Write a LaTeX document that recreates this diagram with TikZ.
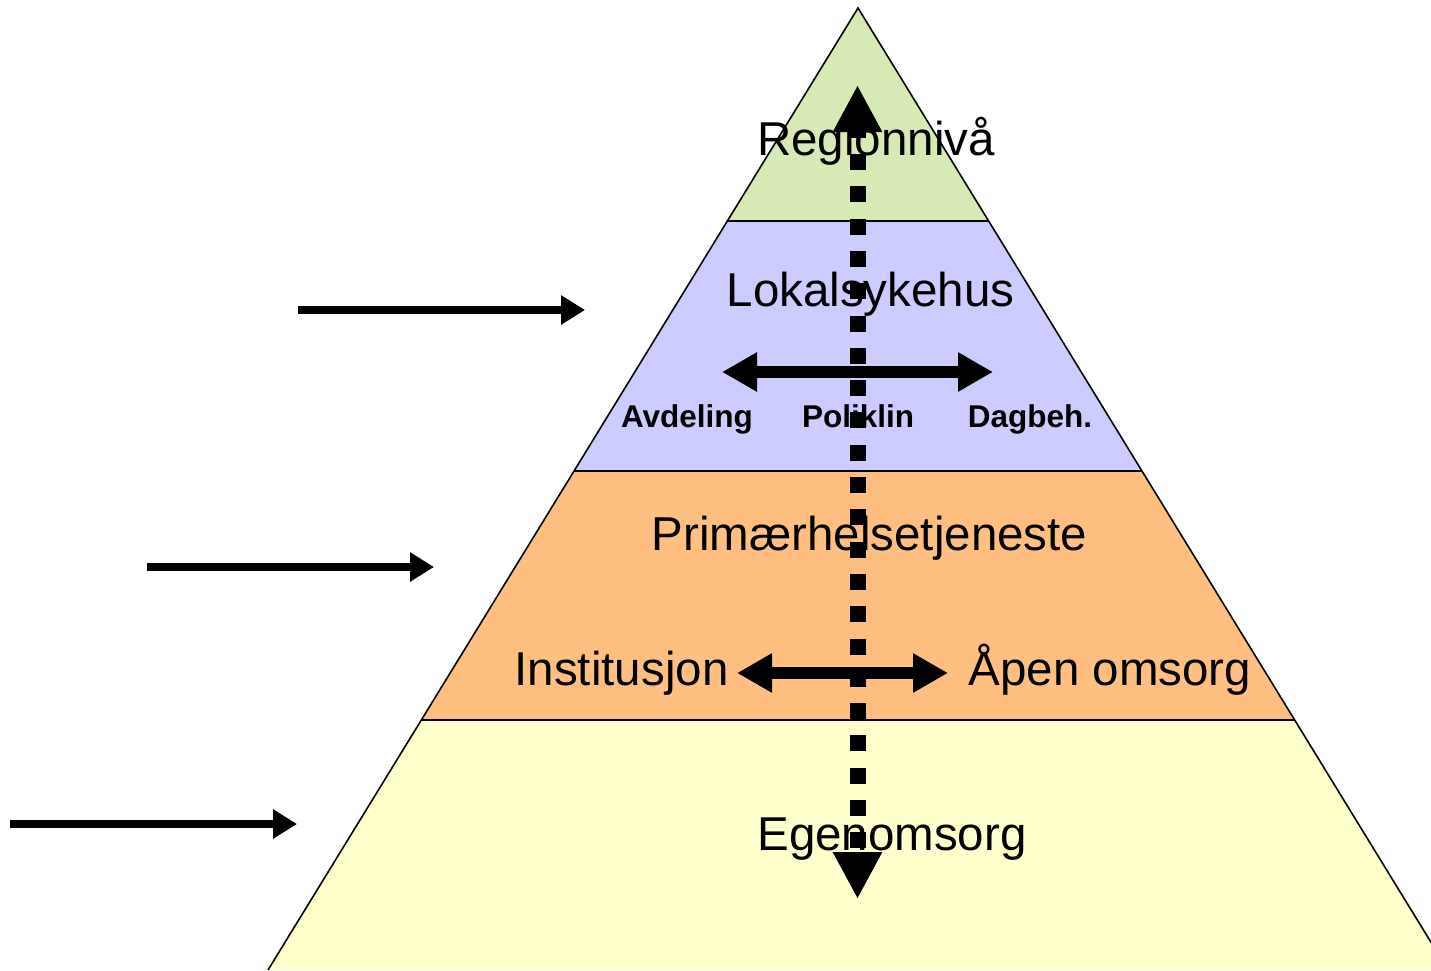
\documentclass[tikz,border=0pt]{standalone}
\usepackage{fontspec}
\setmainfont{Liberation Sans}
\usetikzlibrary{arrows.meta}
\definecolor{cgreen}{RGB}{215,233,180}
\definecolor{cblue}{RGB}{204,204,255}
\definecolor{corange}{RGB}{254,191,128}
\definecolor{cyellow}{RGB}{255,255,204}
\begin{document}
\begin{tikzpicture}[x=1pt,y=-1pt,
  layer/.style={line width=1.6pt, draw=black, line join=miter},
  bigtext/.style={anchor=base, inner sep=0pt, font=\fontsize{47.5}{57}\selectfont},
  smalltext/.style={anchor=base, inner sep=0pt, font=\fontsize{31.5}{38}\selectfont\bfseries},
  sidearrow/.style={line width=8.5pt, -{Triangle[length=24pt,width=28pt]}},
  duoarrow/.style={line width=12pt, {Triangle[length=35pt,width=37pt]}-{Triangle[length=35pt,width=37pt]}},
  vertarrow/.style={line width=16pt, dash pattern=on 16pt off 16.3pt, dash phase=7.3pt,
     {Triangle[length=47pt,width=46pt]}-{Triangle[length=47pt,width=46pt]}}
]
\useasboundingbox (0,0) rectangle (1431,970);
\begin{scope}
\clip (0,0) rectangle (1431,970);
% layers
\fill[cgreen] (858,8) -- (727.4,221) -- (988.6,221) -- cycle;
\fill[cblue] (727.4,221) -- (574,471) -- (1142,471) -- (988.6,221) -- cycle;
\fill[corange] (574,471) -- (421.3,720) -- (1294.7,720) -- (1142,471) -- cycle;
\fill[cyellow] (421.3,720) -- (268,970) -- (1448,970) -- (1294.7,720) -- cycle;
\draw[layer] (268,970) -- (858,8) -- (1448,970);
\draw[layer] (727.4,221) -- (988.6,221);
\draw[layer] (574,471) -- (1142,471);
\draw[layer] (421.3,720) -- (1294.7,720);
\end{scope}

% texts
\node[bigtext] (region) at (876,155) {Regionnivå};
\node[bigtext] (lokal) at (870.5,306) {Lokalsykehus};
\node[smalltext] (avd) at (687,427) {Avdeling};
\node[smalltext] (poli) at (858,427) {Poliklin};
\node[smalltext] (dag) at (1030,427) {Dagbeh.};
\node[bigtext] (prim) at (869.5,550) {Primærhelsetjeneste};
\node[bigtext] (inst) at (621.5,685) {Institusjon};
\node[bigtext] (apen) at (1110,685) {Åpen omsorg};
\node[bigtext] (egen) at (892,850) {Egenomsorg};

% arrow endpoints
\coordinate (vtop) at (857.5,85);
\coordinate (vbot) at (857.5,899);
\coordinate (bl) at (722,372);
\coordinate (br) at (993,372);
\coordinate (ol) at (737,673);
\coordinate (or) at (948,673);
\coordinate (a1s) at (298,310);
\coordinate (a1e) at (585,310);
\coordinate (a2s) at (147,567);
\coordinate (a2e) at (434,567);
\coordinate (a3s) at (10,824);
\coordinate (a3e) at (297,824);

\draw[vertarrow] (vtop) -- (vbot);
\draw[duoarrow] (bl) -- (br);
\draw[duoarrow] (ol) -- (or);
\draw[sidearrow] (a1s) -- (a1e);
\draw[sidearrow] (a2s) -- (a2e);
\draw[sidearrow] (a3s) -- (a3e);
\end{tikzpicture}
\end{document}
